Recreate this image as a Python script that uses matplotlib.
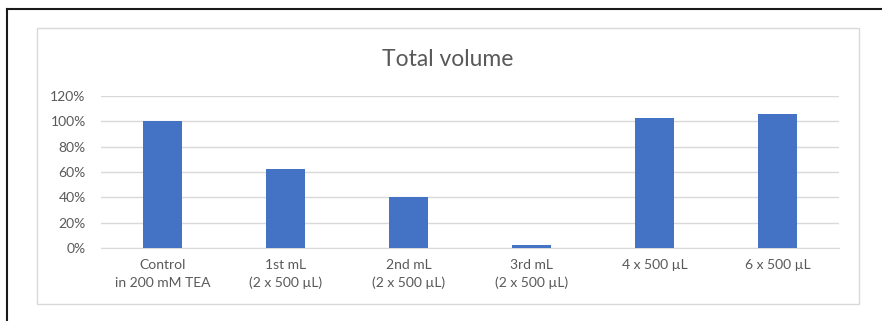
import matplotlib.pyplot as plt
from matplotlib.lines import Line2D
from matplotlib.patches import Rectangle
from matplotlib.ticker import FuncFormatter

# fraction of the control volume recovered per fraction
categories = ['Control\nin 200 mM TEA', '1st mL\n(2 x 500 µL)', '2nd mL\n(2 x 500 µL)',
              '3rd mL\n(2 x 500 µL)', '4 x 500 µL', '6 x 500 µL']
total_volume = [1.00, 0.626, 0.40, 0.026, 1.03, 1.055]
y_ticks = [0, 0.2, 0.4, 0.6, 0.8, 1.0, 1.2]

W, H = 882, 321
text_grey = '#595959'
grid_grey = '#d9d9d9'
bar_blue = '#4472C4'

plt.rcParams['font.family'] = ['Lato', 'DejaVu Sans']

fig = plt.figure(figsize=(W / 100, H / 100), dpi=100)

# outer frame (left and top edges visible)
fig.add_artist(Line2D([7 / W, 7 / W], [0, 1 - 9 / H], color='#1a1a1a', lw=1.5))
fig.add_artist(Line2D([7 / W, 1], [1 - 9 / H, 1 - 9 / H], color='#1a1a1a', lw=1.5))

# chart area border
fig.add_artist(Rectangle((37 / W, 1 - 304 / H), (859 - 37) / W, (304 - 28) / H,
                         fill=False, edgecolor=grid_grey, lw=1))

ax = fig.add_axes([101 / W, 1 - 248 / H, (839 - 101) / W, (248 - 96) / H])
x = range(len(categories))
ax.bar(x, total_volume, width=0.32, color=bar_blue, zorder=3)

ax.set_xlim(-0.5, len(categories) - 0.5)
ax.set_ylim(0, 1.2)
ax.set_yticks(y_ticks)
ax.yaxis.set_major_formatter(FuncFormatter(lambda v, p: f'{v * 100:.0f}%'))
ax.set_xticks(list(x))
ax.set_xticklabels(categories, linespacing=1.55)
ax.grid(axis='y', color=grid_grey, lw=1, zorder=0)
ax.tick_params(axis='both', length=0, labelsize=10, labelcolor=text_grey)
ax.tick_params(axis='x', pad=8)
ax.tick_params(axis='y', pad=11)
for side in ['top', 'right', 'left']:
    ax.spines[side].set_visible(False)
ax.spines['bottom'].set_color(grid_grey)

fig.text(448 / W, 1 - 60 / H, 'Total volume', ha='center', va='center',
         fontsize=16.5, color=text_grey)

fig.savefig('out.png', dpi=100)
